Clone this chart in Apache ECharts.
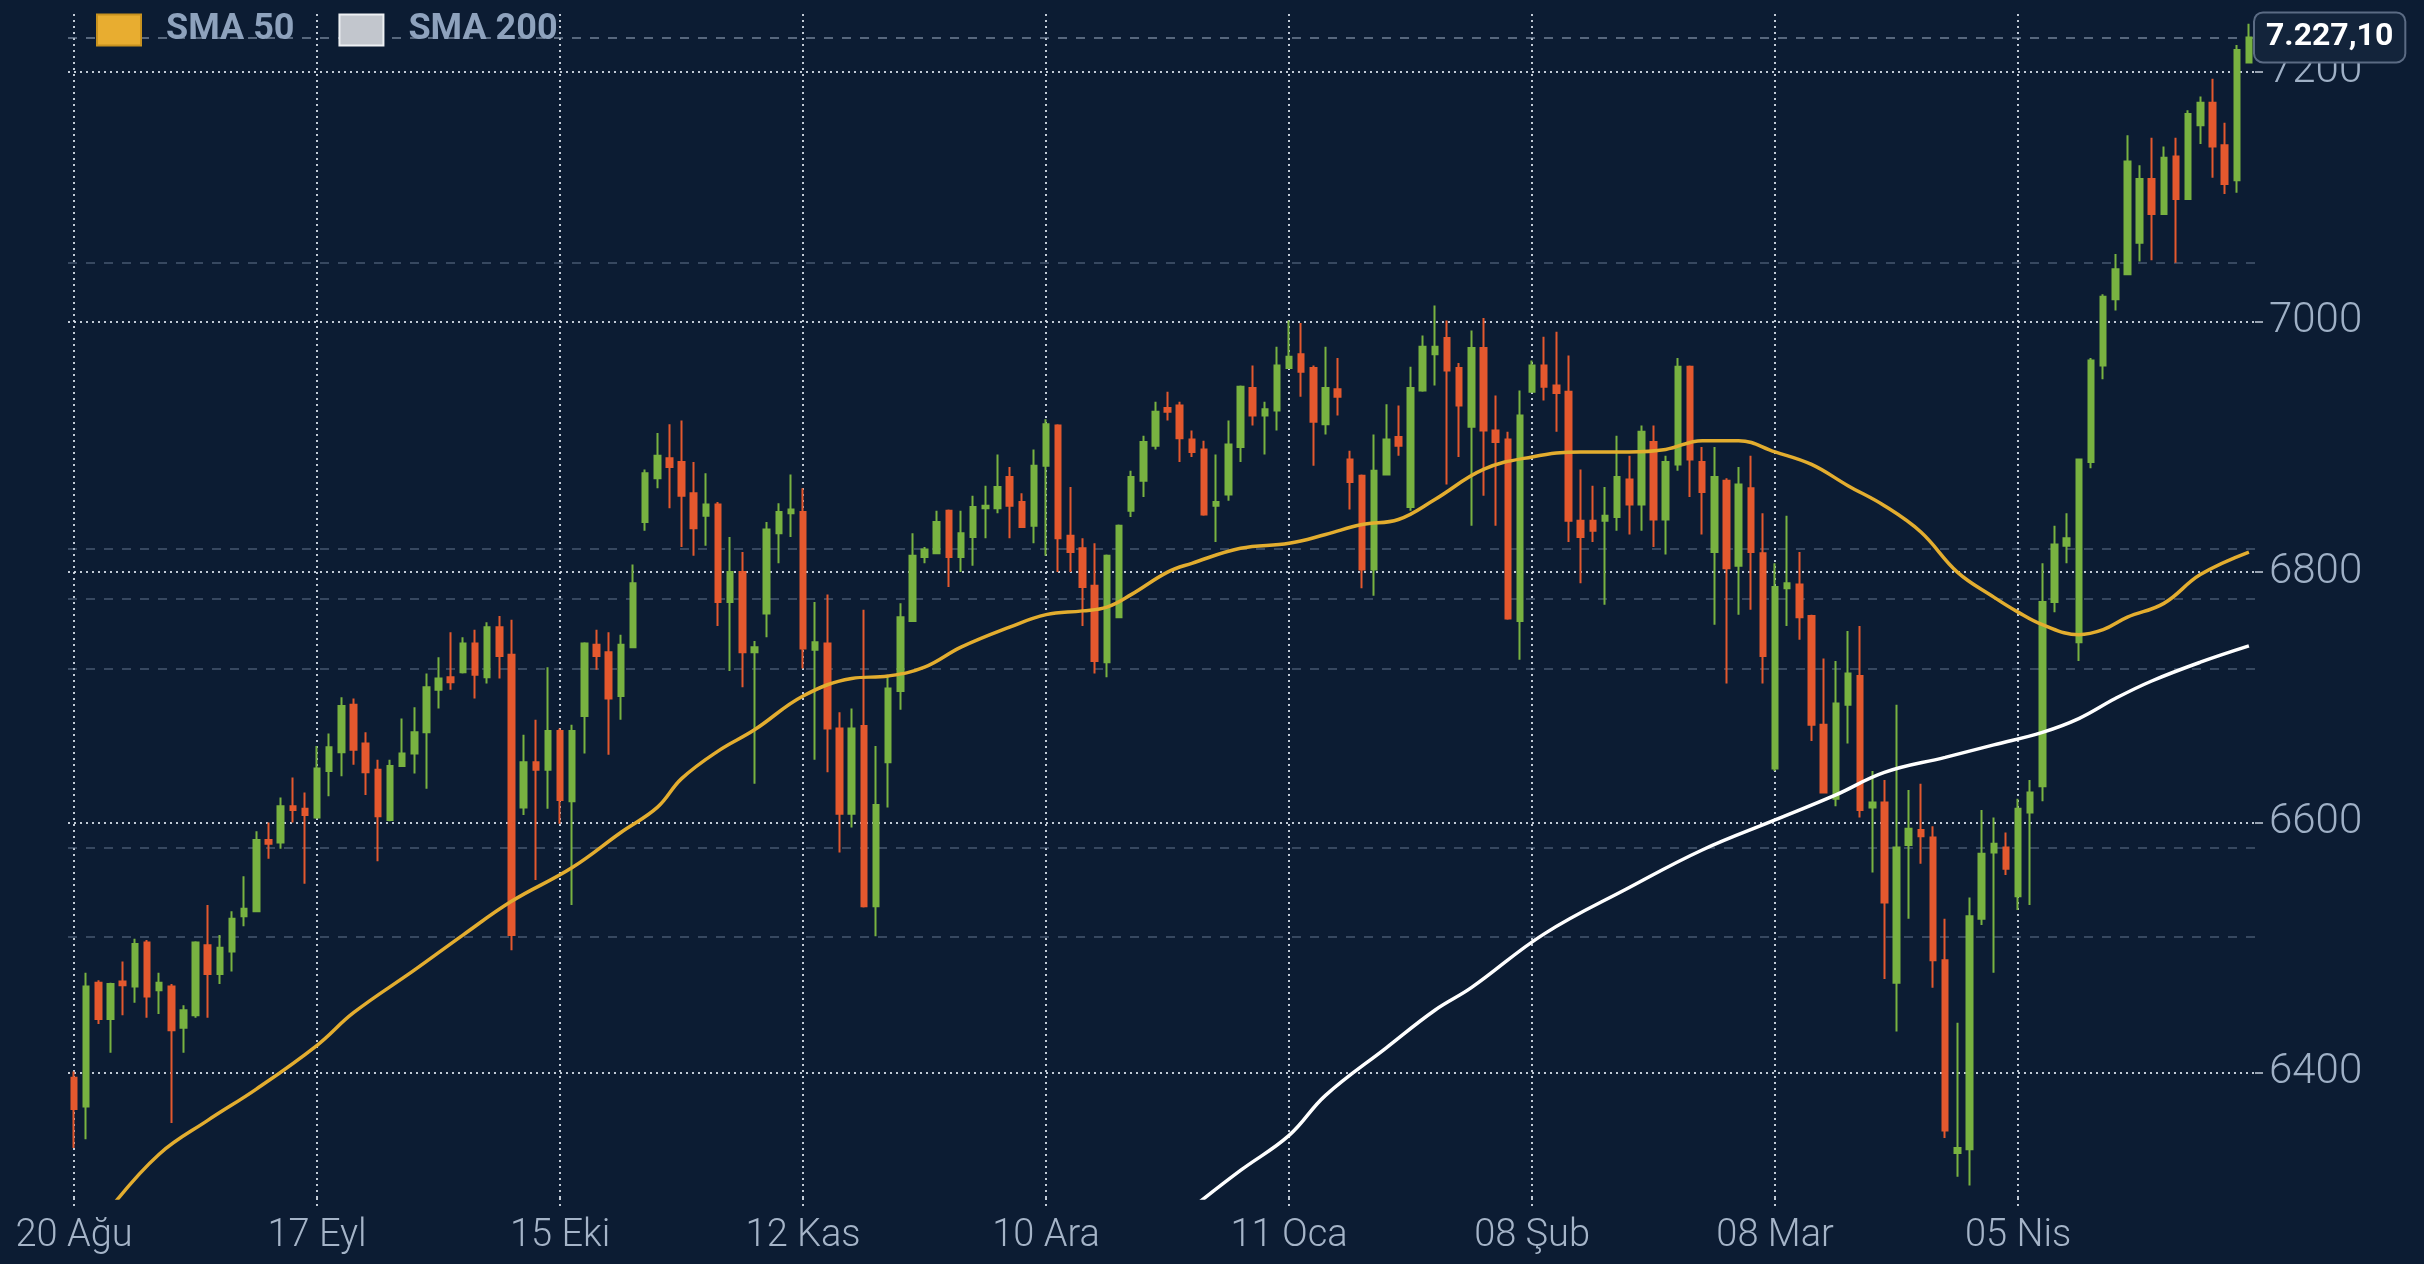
<!DOCTYPE html>
<html>
<head>
<meta charset="utf-8">
<script src="https://cdn.jsdelivr.net/npm/echarts@6/dist/echarts.min.js"></script>
<style>
  html, body { margin: 0; padding: 0; background: #0c1c33; }
  #chart { width: 2424px; height: 1264px; }
</style>
</head>
<body>
<div id="chart"></div>
<script>
// x axis: one label every 20 sessions
const tickLabels = ['20 Ağu', '17 Eyl', '15 Eki', '12 Kas', '10 Ara', '11 Oca', '08 Şub', '08 Mar', '05 Nis']
const tickEvery = 20

// daily candles: [open, close, low, high]
const ohlc = [
  [6396, 6371, 6340, 6401], [6373, 6469, 6347, 6480], [6472, 6443, 6439, 6474], [6443, 6471, 6416, 6472],
  [6473, 6470, 6446, 6489], [6469, 6503, 6456, 6507], [6504, 6461, 6444, 6506], [6466, 6472, 6447, 6480],
  [6469, 6434, 6360, 6471], [6436, 6450, 6416, 6454], [6446, 6504, 6444, 6505], [6502, 6479, 6444, 6534],
  [6479, 6500, 6471, 6510], [6497, 6523, 6481, 6529], [6525, 6531, 6517, 6557], [6529, 6586, 6529, 6593],
  [6586, 6583, 6571, 6600], [6584, 6613, 6579, 6620], [6613, 6610, 6600, 6636], [6611, 6606, 6551, 6624],
  [6604, 6643, 6603, 6661], [6641, 6660, 6621, 6671], [6656, 6693, 6637, 6700], [6694, 6658, 6646, 6699],
  [6663, 6640, 6622, 6672], [6642, 6605, 6569, 6650], [6602, 6645, 6601, 6650], [6645, 6655, 6645, 6683],
  [6655, 6672, 6639, 6692], [6672, 6708, 6627, 6719], [6706, 6715, 6691, 6732], [6716, 6712, 6706, 6752],
  [6720, 6743, 6719, 6748], [6743, 6718, 6699, 6754], [6716, 6756, 6711, 6760], [6756, 6733, 6715, 6765],
  [6734, 6510, 6498, 6762], [6612, 6648, 6606, 6670], [6648, 6642, 6554, 6682], [6642, 6673, 6611, 6724],
  [6673, 6618, 6599, 6675], [6617, 6673, 6534, 6678], [6685, 6743, 6655, 6744], [6742, 6733, 6722, 6754],
  [6736, 6699, 6654, 6752], [6701, 6742, 6682, 6750], [6740, 6791, 6740, 6806], [6840, 6879, 6833, 6882],
  [6875, 6893, 6867, 6911], [6891, 6884, 6851, 6918], [6888, 6861, 6820, 6921], [6863, 6835, 6813, 6888],
  [6845, 6854, 6821, 6879], [6854, 6776, 6757, 6856], [6776, 6800, 6721, 6828], [6800, 6736, 6708, 6816],
  [6736, 6740, 6631, 6745], [6767, 6834, 6748, 6840], [6831, 6848, 6807, 6855], [6847, 6850, 6828, 6878],
  [6848, 6739, 6723, 6867], [6738, 6744, 6650, 6776], [6743, 6675, 6640, 6782], [6675, 6607, 6576, 6688],
  [6607, 6675, 6596, 6691], [6677, 6533, 6532, 6770], [6533, 6614, 6509, 6661], [6648, 6707, 6612, 6716],
  [6705, 6764, 6690, 6775], [6761, 6813, 6761, 6831], [6812, 6818, 6807, 6820], [6815, 6840, 6815, 6849],
  [6849, 6812, 6788, 6850], [6812, 6831, 6800, 6849], [6828, 6852, 6805, 6861], [6851, 6853, 6827, 6869],
  [6851, 6868, 6847, 6894], [6876, 6853, 6827, 6884], [6856, 6836, 6836, 6863], [6837, 6885, 6823, 6898],
  [6885, 6918, 6813, 6922], [6917, 6827, 6800, 6918], [6829, 6816, 6800, 6868], [6819, 6788, 6757, 6827],
  [6789, 6729, 6719, 6823], [6728, 6813, 6716, 6814], [6764, 6837, 6764, 6838], [6849, 6876, 6844, 6881],
  [6873, 6904, 6860, 6909], [6901, 6928, 6898, 6936], [6931, 6928, 6921, 6944], [6933, 6907, 6888, 6936],
  [6906, 6896, 6892, 6913], [6898, 6846, 6845, 6905], [6853, 6856, 6824, 6894], [6862, 6902, 6857, 6921],
  [6900, 6948, 6888, 6949], [6947, 6925, 6917, 6965], [6925, 6930, 6894, 6936], [6929, 6965, 6913, 6980],
  [6963, 6972, 6963, 7001], [6974, 6960, 6940, 6999], [6963, 6920, 6885, 6965], [6918, 6947, 6910, 6980],
  [6946, 6940, 6925, 6971], [6890, 6872, 6850, 6897], [6877, 6802, 6787, 6878], [6802, 6881, 6781, 6910],
  [6878, 6906, 6878, 6934], [6908, 6901, 6893, 6933], [6852, 6947, 6849, 6964], [6945, 6980, 6944, 6989],
  [6974, 6980, 6949, 7013], [6987, 6961, 6870, 7001], [6963, 6933, 6892, 6967], [6916, 6979, 6837, 6993],
  [6979, 6913, 6861, 7003], [6913, 6904, 6837, 6941], [6906, 6763, 6762, 6912], [6761, 6925, 6730, 6945],
  [6944, 6965, 6944, 6969], [6965, 6948, 6937, 6988], [6949, 6943, 6912, 6992], [6944, 6841, 6824, 6973],
  [6841, 6828, 6791, 6882], [6841, 6833, 6824, 6869], [6841, 6845, 6774, 6868], [6844, 6876, 6833, 6909],
  [6874, 6854, 6830, 6893], [6854, 6912, 6833, 6917], [6904, 6842, 6820, 6917], [6842, 6888, 6814, 6893],
  [6886, 6964, 6881, 6971], [6964, 6890, 6860, 6965], [6888, 6864, 6830, 6900], [6816, 6876, 6758, 6900],
  [6873, 6803, 6711, 6875], [6805, 6870, 6766, 6884], [6867, 6816, 6770, 6893], [6815, 6733, 6711, 6847],
  [6643, 6788, 6641, 6807], [6787, 6791, 6757, 6845], [6790, 6764, 6746, 6816], [6765, 6678, 6665, 6766],
  [6678, 6624, 6624, 6731], [6619, 6695, 6613, 6729], [6694, 6719, 6663, 6753], [6717, 6610, 6604, 6757],
  [6612, 6616, 6560, 6641], [6616, 6536, 6475, 6634], [6472, 6580, 6433, 6694], [6582, 6595, 6523, 6626],
  [6594, 6589, 6567, 6631], [6588, 6490, 6468, 6597], [6490, 6354, 6348, 6523], [6336, 6340, 6317, 6440],
  [6339, 6525, 6310, 6540], [6523, 6575, 6518, 6610], [6576, 6583, 6480, 6604], [6580, 6563, 6558, 6592],
  [6541, 6611, 6530, 6619], [6608, 6624, 6534, 6634], [6629, 6776, 6617, 6807], [6776, 6822, 6768, 6837],
  [6821, 6827, 6807, 6847], [6744, 6890, 6729, 6890], [6888, 6969, 6883, 6971], [6965, 7020, 6954, 7022],
  [7018, 7042, 7009, 7054], [7038, 7128, 7038, 7149], [7063, 7114, 7048, 7125], [7114, 7086, 7049, 7147],
  [7086, 7131, 7086, 7140], [7132, 7098, 7047, 7147], [7098, 7166, 7098, 7169], [7157, 7175, 7142, 7180],
  [7175, 7140, 7115, 7194], [7141, 7110, 7102, 7159], [7113, 7217, 7103, 7221], [7207, 7227.1, 7207, 7238]
]

// moving averages: [session index, value]
const sma50 = [
  [3, 6292], [7, 6335], [11, 6362], [15, 6387], [20, 6422], [23, 6448], [28, 6482], [32, 6510],
  [36, 6537], [41, 6564], [45, 6592], [48, 6612], [50, 6635], [53, 6657], [56, 6674], [60, 6701],
  [64, 6715], [67, 6717], [70, 6724], [73, 6740], [77, 6756], [80, 6766], [83, 6769], [85, 6772],
  [87, 6782], [90, 6800], [92, 6807], [96, 6819], [100, 6823], [103, 6830], [106, 6838], [109, 6842],
  [112, 6858], [116, 6882], [120, 6892], [124, 6896], [128, 6896], [131, 6898], [134, 6905], [137, 6905],
  [140, 6896], [143, 6886], [146, 6869], [149, 6853], [152, 6832], [155, 6800], [158, 6780], [160, 6768],
  [162, 6758], [165, 6750], [167, 6754], [169, 6764], [172, 6775], [175, 6798], [179, 6816]
]
const sma200 = [
  [92, 6292], [96, 6322], [100, 6350], [103, 6382], [108, 6420], [112, 6450], [115, 6468], [121, 6511],
  [128, 6548], [134, 6578], [140, 6602], [145, 6622], [149, 6640], [154, 6652], [158, 6662], [162, 6672],
  [165, 6683], [168, 6699], [171, 6713], [175, 6728], [179, 6741]
]

const lastPrice = 7227.10
// faint horizontal levels
const levels = [7047, 6819, 6779, 6723, 6580, 6509]

function fmtTr(v) {
  const [i, d] = v.toFixed(2).split('.')
  return i.replace(/\B(?=(\d{3})+(?!\d))/g, '.') + ',' + d
}

const up = '#78b241'
const down = '#e4582e'
const dotted = { type: [2, 4], color: 'rgba(226,233,243,0.85)', width: 2 }
const faint = { type: [9, 9], color: 'rgba(120,140,165,0.4)', width: 2 }

const chart = echarts.init(document.getElementById('chart'))

const markData = []
tickLabels.forEach((_, k) => {
  markData.push({ xAxis: k * tickEvery, lineStyle: dotted, label: { show: false } })
})
levels.forEach(v => {
  markData.push({ yAxis: v, lineStyle: faint, label: { show: false } })
})
markData.push({
  yAxis: lastPrice,
  lineStyle: { type: [9, 9], color: 'rgba(150,165,185,0.55)', width: 2 },
  label: {
    show: true,
    position: 'end',
    distance: 0,
    formatter: fmtTr(lastPrice),
    color: '#ffffff',
    fontSize: 32,
    fontWeight: 'bold',
    fontFamily: 'Roboto',
    backgroundColor: '#13243b',
    borderColor: '#5b6b84',
    borderWidth: 2,
    borderRadius: 8,
    padding: [9, 11, 7, 11]
  }
})

chart.setOption({
  backgroundColor: '#0c1c33',
  animation: false,
  grid: { left: 68, right: 169, top: 10, bottom: 66 },
  legend: {
    left: 91,
    top: 7,
    icon: 'rect',
    itemWidth: 44,
    itemHeight: 31,
    itemGap: 44,
    textStyle: { color: '#8ea2bd', fontSize: 36, fontWeight: 'bold', fontFamily: 'Roboto', padding: [0, 0, 0, 20] },
    data: [
      { name: 'SMA 50', itemStyle: { color: '#e8ad30', borderColor: '#c8921f', borderWidth: 2 } },
      { name: 'SMA 200', itemStyle: { color: '#c2c6cd', borderColor: '#eef0f3', borderWidth: 2 } }
    ]
  },
  xAxis: {
    type: 'category',
    data: ohlc.map((_, i) => String(i)),
    boundaryGap: true,
    axisLine: { show: false },
    axisTick: { show: true, interval: tickEvery - 1, alignWithLabel: true, length: 10, lineStyle: dotted },
    axisLabel: {
      interval: tickEvery - 1,
      formatter: (v, i) => tickLabels[i / tickEvery] || '',
      color: '#a5b4c8',
      fontSize: 38,
      fontFamily: 'Roboto',
      fontWeight: 300,
      margin: 19
    },
    splitLine: { show: false }
  },
  yAxis: {
    type: 'value',
    position: 'right',
    min: 6300,
    max: 7249,
    axisLine: { show: false },
    axisTick: { show: true, length: 8, lineStyle: { color: 'rgba(210,218,230,0.7)', width: 2 } },
    axisLabel: {
      formatter: v => String(v),
      color: '#9fb0c6',
      fontSize: 42,
      fontFamily: 'Roboto',
      fontWeight: 300,
      margin: 14,
      showMinLabel: false,
      showMaxLabel: false
    },
    splitLine: { show: true, showMinLine: false, showMaxLine: false, lineStyle: dotted }
  },
  series: [
    {
      name: 'Fiyat',
      type: 'candlestick',
      data: ohlc,
      barWidth: 6,
      z: 2,
      itemStyle: { color: up, color0: down, borderColor: up, borderColor0: down, borderWidth: 2 },
      markLine: { silent: true, z: 1, symbol: ['none', 'none'], animation: false, data: markData }
    },
    {
      name: 'SMA 50',
      type: 'line',
      data: sma50,
      smooth: 0.4,
      showSymbol: false,
      z: 3,
      lineStyle: { color: '#e3ad2f', width: 3.5 },
      itemStyle: { color: '#e3ad2f' }
    },
    {
      name: 'SMA 200',
      type: 'line',
      data: sma200,
      smooth: 0.4,
      showSymbol: false,
      z: 3,
      lineStyle: { color: '#ffffff', width: 3.5 },
      itemStyle: { color: '#c2c6cd' }
    }
  ]
})
</script>
</body>
</html>
